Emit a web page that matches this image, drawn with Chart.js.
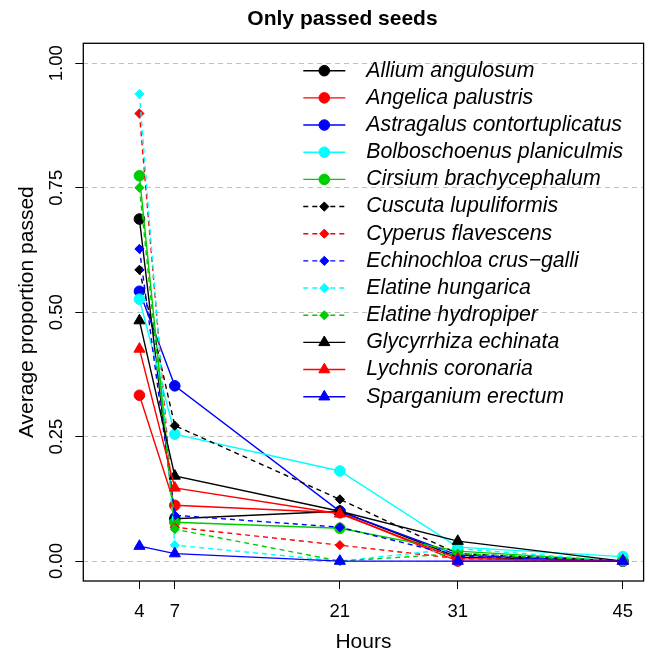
<!DOCTYPE html>
<html>
<head>
<meta charset="utf-8">
<script src="https://cdn.jsdelivr.net/npm/chart.js@4.4.1/dist/chart.umd.min.js"></script>
<style>
  html, body { margin: 0; padding: 0; background: #ffffff; }
  #wrap { width: 651px; height: 653px; }
</style>
</head>
<body>
<div id="wrap"><canvas id="chart" width="651" height="653"></canvas></div>
<script>
// x positions (hours) and y tick values
var hours = [4, 7, 21, 31, 45];
var yTicks = [0, 0.25, 0.5, 0.75, 1];

// average proportion passed, one array per species
var alliumAngulosum        = [0.687, 0.085, 0.100, 0.008, 0.000];
var angelicaPalustris      = [0.333, 0.112, 0.097, 0.000, 0.000];
var astragalusContort      = [0.542, 0.352, 0.100, 0.012, 0.000];
var bolboschoenusPlan      = [0.526, 0.255, 0.181, 0.028, 0.009];
var cirsiumBrachy          = [0.774, 0.078, 0.066, 0.020, 0.000];
var cuscutaLupuliformis    = [0.585, 0.272, 0.124, 0.015, 0.000];
var cyperusFlavescens      = [0.899, 0.068, 0.032, 0.005, 0.000];
var echinochloaCrusGalli   = [0.627, 0.092, 0.068, 0.010, 0.000];
var elatineHungarica       = [0.938, 0.032, 0.000, 0.025, 0.000];
var elatineHydropiper      = [0.750, 0.064, 0.000, 0.015, 0.000];
var glycyrrhizaEchinata    = [0.483, 0.171, 0.100, 0.040, 0.000];
var lychnisCoronaria       = [0.426, 0.147, 0.095, 0.005, 0.000];
var sparganiumErectum      = [0.030, 0.015, 0.000, 0.000, 0.000];

var species = [
  'Allium angulosum', 'Angelica palustris', 'Astragalus contortuplicatus',
  'Bolboschoenus planiculmis', 'Cirsium brachycephalum', 'Cuscuta lupuliformis',
  'Cyperus flavescens', 'Echinochloa crus\u2212galli', 'Elatine hungarica',
  'Elatine hydropiper', 'Glycyrrhiza echinata', 'Lychnis coronaria', 'Sparganium erectum'
];
var values = [
  alliumAngulosum, angelicaPalustris, astragalusContort, bolboschoenusPlan,
  cirsiumBrachy, cuscutaLupuliformis, cyperusFlavescens, echinochloaCrusGalli,
  elatineHungarica, elatineHydropiper, glycyrrhizaEchinata, lychnisCoronaria,
  sparganiumErectum
];
var colors = ['#000000', '#ff0000', '#0000ff', '#00ffff', '#00cd00',
              '#000000', '#ff0000', '#0000ff', '#00ffff', '#00cd00',
              '#000000', '#ff0000', '#0000ff'];
var shapes = ['circle', 'circle', 'circle', 'circle', 'circle',
              'rectRot', 'rectRot', 'rectRot', 'rectRot', 'rectRot',
              'triangle', 'triangle', 'triangle'];
var dashed = [false, false, false, false, false,
              true, true, true, true, true,
              false, false, false];

var FONT = '"Liberation Sans", Arial, Helvetica, sans-serif';
Chart.defaults.font.family = FONT;
Chart.defaults.color = '#000000';

function radiusFor(shape) {
  if (shape === 'circle') return 5.3;
  if (shape === 'rectRot') return 4.6;
  return 6.4;
}

var datasets = species.map(function (name, i) {
  return {
    label: name,
    data: hours.map(function (h, j) { return { x: h, y: values[i][j] }; }),
    borderColor: colors[i],
    backgroundColor: colors[i],
    pointBackgroundColor: colors[i],
    pointBorderColor: colors[i],
    pointBorderWidth: 1,
    borderWidth: 1.4,
    borderDash: dashed[i] ? [5, 4] : [],
    pointStyle: shapes[i],
    pointRadius: radiusFor(shapes[i]),
    pointHoverRadius: radiusFor(shapes[i]),
    tension: 0,
    fill: false,
    order: species.length - 1 - i
  };
});

function drawMarker(ctx, shape, r, x, y) {
  ctx.beginPath();
  if (shape === 'circle') {
    ctx.arc(x, y, r, 0, Math.PI * 2);
  } else if (shape === 'rectRot') {
    ctx.moveTo(x - r, y); ctx.lineTo(x, y - r); ctx.lineTo(x + r, y); ctx.lineTo(x, y + r);
  } else {
    ctx.moveTo(x, y - r);
    ctx.lineTo(x + r * Math.sqrt(3) / 2, y + r / 2);
    ctx.lineTo(x - r * Math.sqrt(3) / 2, y + r / 2);
  }
  ctx.closePath();
  ctx.fill();
  ctx.stroke();
}

var frameAndLegend = {
  id: 'frameAndLegend',
  afterLayout: function (chart) {
    var t = chart.titleBlock;
    if (t) {
      var shift = 342.5 - (t.left + t.right) / 2;
      t.left += shift; t.right += shift;
    }
  },
  afterDraw: function (chart) {
    var ctx = chart.ctx, a = chart.chartArea;
    ctx.save();
    ctx.strokeStyle = '#000000';
    ctx.lineWidth = 1.3;
    ctx.setLineDash([]);
    ctx.strokeRect(a.left, a.top, a.right - a.left, a.bottom - a.top);

    // legend (no frame), line + marker + italic label
    var x0 = a.left + 220, x1 = a.left + 262, xm = a.left + 241, xt = a.left + 283;
    var y0 = a.top + 27.4, pitch = 27.17;
    chart.data.datasets.forEach(function (ds, i) {
      var y = y0 + i * pitch;
      ctx.strokeStyle = ds.borderColor;
      ctx.lineWidth = 1.4;
      ctx.setLineDash(ds.borderDash);
      ctx.beginPath(); ctx.moveTo(x0, y); ctx.lineTo(x1, y); ctx.stroke();
      ctx.setLineDash([]);
      ctx.lineWidth = 1;
      ctx.fillStyle = ds.pointBackgroundColor;
      drawMarker(ctx, ds.pointStyle, ds.pointRadius, xm, y);
      ctx.fillStyle = '#000000';
      ctx.font = 'italic 21.3px ' + FONT;
      ctx.textAlign = 'left';
      ctx.textBaseline = 'middle';
      ctx.fillText(ds.label, xt, y);
    });
    ctx.restore();
  }
};

new Chart(document.getElementById('chart'), {
  type: 'line',
  data: { datasets: datasets },
  options: {
    responsive: false,
    devicePixelRatio: 1,
    animation: false,
    layout: { padding: { left: 0, right: 2, top: 0, bottom: 0 } },
    plugins: {
      legend: { display: false },
      tooltip: { enabled: false },
      title: {
        display: true,
        text: 'Only passed seeds',
        color: '#000000',
        font: { size: 21, weight: 'bold' },
        padding: { top: 6.8, bottom: 11.3 }
      }
    },
    scales: {
      x: {
        type: 'linear',
        min: -0.76,
        max: 46.76,
        afterBuildTicks: function (s) { s.ticks = hours.map(function (h) { return { value: h }; }); },
        afterFit: function (s) { s.height = 72; },
        ticks: { font: { size: 18.5 }, color: '#000000', padding: 12, maxRotation: 0, autoSkip: false },
        grid: { drawOnChartArea: false, drawTicks: true, tickLength: 8, tickColor: '#000000', tickWidth: 1 },
        border: { display: false },
        title: { display: true, text: 'Hours', color: '#000000', font: { size: 21 }, padding: { top: 0, bottom: -2 } }
      },
      y: {
        type: 'linear',
        min: -0.04,
        max: 1.04,
        afterBuildTicks: function (s) { s.ticks = yTicks.map(function (v) { return { value: v }; }); },
        afterFit: function (s) { s.width = 83.3; },
        ticks: {
          font: { size: 18.5 }, color: '#000000', padding: 0,
          minRotation: 90, maxRotation: 90, crossAlign: 'center',
          callback: function (v) { return Number(v).toFixed(2); }
        },
        grid: { color: '#c0c0c0', lineWidth: 1, drawTicks: true, tickLength: 8, tickColor: '#000000', tickWidth: 1, tickBorderDash: [] },
        border: { display: false, dash: [5, 4] },
        title: { display: true, text: 'Average proportion passed', color: '#000000', font: { size: 21 }, padding: { top: 15, bottom: 0 } }
      }
    }
  },
  plugins: [frameAndLegend]
});
</script>
</body>
</html>
